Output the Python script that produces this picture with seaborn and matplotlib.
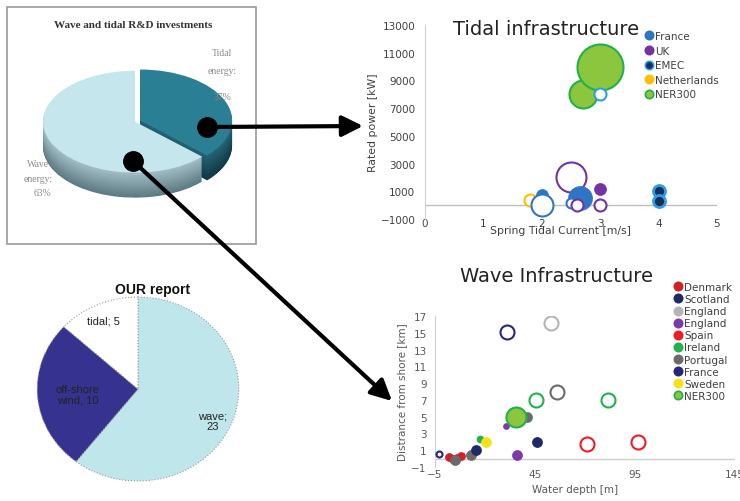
import numpy as np
import matplotlib.pyplot as plt
import seaborn as sns
from matplotlib.lines import Line2D
from matplotlib.patches import Rectangle
from matplotlib.colors import to_rgb

sns.set_style('white')
plt.rcParams['font.family'] = ['DejaVu Sans']

W, H = 740, 502

# R&D investment split (%), tidal first
rd_labels = ['Tidal energy', 'Wave energy']
rd_share = [37, 63]

# OUR report project counts
our_labels = ['wave', 'off-shore wind', 'tidal']
our_counts = [23, 10, 5]

# Tidal infrastructure bubbles (listed in drawing order)
tidal_country = ['NER300', 'NER300', 'EMEC', 'Netherlands', 'France', 'France', 'UK',
                 'France', 'France', 'UK', 'UK', 'UK', 'EMEC', 'EMEC']
tidal_current = [2.7, 3.0, 3.0, 1.8, 2.0, 2.0, 2.5, 2.65, 2.5, 2.6, 3.0, 3.0, 4.0, 4.0]
tidal_power = [8000, 10000, 8000, 400, 700, 0, 2000, 500, 150, 0, 1200, 0, 1000, 300]
tidal_bubble = [14, 23, 6, 6, 6, 11, 15, 12, 5, 6, 6, 6, 6, 6]
tidal_planned = [0, 0, 1, 1, 0, 1, 1, 0, 1, 1, 0, 1, 0, 0]
tidal_legend = ['France', 'UK', 'EMEC', 'Netherlands', 'NER300']

# Wave infrastructure bubbles (listed in drawing order)
wave_country = ['France', 'Denmark', 'Denmark', 'Denmark', 'Denmark', 'Portugal', 'Portugal',
                'Scotland', 'Ireland', 'Sweden', 'England2', 'France', 'England2', 'Portugal',
                'NER300', 'Ireland', 'Scotland', 'England', 'Portugal', 'Spain', 'Ireland', 'Spain']
wave_depth = [-3, 2, 4, 6, 8, 5, 13, 15.5, 17.5, 20.5, 30.5, 31, 36, 41, 35.5, 45.5, 46, 53,
              56, 71, 81.5, 96.5]
wave_dist = [0.5, 0.2, 0.0, 0.1, 0.3, -0.2, 0.4, 1.0, 2.3, 2.0, 3.9, 15.1, 0.4, 5.0, 5.0, 7.0,
             2.0, 16.2, 8.0, 1.7, 7.0, 2.0]
wave_bubble = [3, 4, 4, 4, 4, 5, 5, 5, 3.5, 5, 3, 7, 5, 5, 10, 7, 5, 7, 7, 7, 7, 7]
wave_planned = [1, 0, 0, 0, 0, 0, 0, 0, 0, 0, 0, 1, 0, 0, 0, 1, 0, 1, 1, 1, 1, 1]
wave_legend = ['Denmark', 'Scotland', 'England', 'England2', 'Spain', 'Ireland', 'Portugal',
               'France', 'Sweden', 'NER300']

tidal_colors = {'France': '#2f76c2', 'UK': '#7432a2', 'EMEC': '#2f9ee0',
                'Netherlands': '#ffc000', 'NER300': '#22b04b'}
wave_colors = {'Denmark': '#d02028', 'Scotland': '#1d2a66', 'England': '#b5b5b5',
               'England2': '#7b3aa8', 'Spain': '#ee1c24', 'Ireland': '#22b14c',
               'Portugal': '#6b6b6b', 'France': '#25287a', 'Sweden': '#f5e31a',
               'NER300': '#22b04b'}
NER_FACE = '#8cc63e'
EMEC_FACE = '#1a2b5e'

fig = plt.figure(figsize=(W / 100, H / 100), dpi=100)


def px_axes(left, top, w, h, **kw):
    return fig.add_axes([left / W, 1 - (top + h) / H, w / W, h / H], **kw)


def bubble_area(r):
    # radius in px -> marker area in pt^2
    return (2 * r * 0.72) ** 2


def mix(c1, c2, t):
    a, b = np.array(to_rgb(c1)), np.array(to_rgb(c2))
    return tuple(a + (b - a) * t)


def marker_style(country, planned, colors):
    c = colors[country]
    if country == 'NER300':
        return dict(facecolor=NER_FACE, edgecolor=c, linewidth=1.5)
    if country == 'EMEC' and not planned:
        return dict(facecolor=EMEC_FACE, edgecolor=c, linewidth=2)
    if planned:
        return dict(facecolor='white', edgecolor=c, linewidth=1.5)
    return dict(facecolor=c, edgecolor=c, linewidth=0.5)


# ---- 3D-ish pie: Wave and tidal R&D investments
axp = px_axes(20, 59, 230, 158)
depth, n_layers = 0.49, 30
for k in range(n_layers, 0, -1):
    t = k / n_layers
    side = [mix('#246577', '#103845', t), mix('#a3bec5', '#5c7a83', t)]
    axp.pie(rd_share, colors=side, startangle=90, counterclock=False, explode=[0.06, 0],
            center=(0, -depth * t), wedgeprops=dict(linewidth=0))
axp.pie(rd_share, colors=['#2b7f95', '#c6e6ee'], startangle=90, counterclock=False,
        explode=[0.06, 0], wedgeprops=dict(linewidth=0))
axp.set_aspect('auto')
axp.set_xlim(-1.25, 1.25)
axp.set_ylim(-1.85, 1.25)
axp.axis('off')

# ---- OUR report pie
axq = px_axes(17, 279.6, 242, 220.8)
axq.pie(our_counts, colors=['#bfe6ea', '#35338f', 'white'], startangle=90, counterclock=False,
        wedgeprops=dict(edgecolor='#9a9a9a', linewidth=0.8, linestyle=':'))
axq.set_aspect('auto')
axq.set_xlim(-1.2, 1.2)
axq.set_ylim(-1.2, 1.2)
axq.axis('off')

# ---- Tidal infrastructure
ax1 = px_axes(425, 26, 292, 194)
for i in range(len(tidal_current)):
    st = marker_style(tidal_country[i], tidal_planned[i], tidal_colors)
    sns.scatterplot(x=[tidal_current[i]], y=[tidal_power[i]], s=bubble_area(tidal_bubble[i]),
                    ax=ax1, legend=False, zorder=3, **st)
ax1.axhline(0, color='#bfbfbf', lw=1, zorder=1)
ax1.set_xlim(0, 5)
ax1.set_ylim(-1000, 13000)
ax1.set_xticks(range(0, 6))
ax1.set_yticks(range(-1000, 14000, 2000))
for s in ['top', 'right', 'bottom']:
    ax1.spines[s].set_visible(False)
ax1.spines['left'].set_color('#d0d0d0')
ax1.tick_params(axis='both', labelsize=7.5, colors='#404040', length=0)
ax1.tick_params(axis='y', pad=7)
ax1.tick_params(axis='x', pad=-1)
ax1.set_xlabel('Spring Tidal Current [m/s]', fontsize=7.8, color='#404040')
ax1.set_ylabel('Rated power [kW]', fontsize=7.8, color='#404040')
ax1.xaxis.set_label_coords((560 - 425) / 292, -(231 - 220) / 194)
ax1.yaxis.set_label_coords((373 - 425) / 292, 0.5)
ax1.xaxis.label.set_va('center')
ax1.yaxis.label.set_va('center')

h1 = []
for name in tidal_legend:
    st = marker_style(name, 0, tidal_colors)
    h1.append(Line2D([], [], ls='', marker='o', ms=6, markerfacecolor=st['facecolor'],
                     markeredgecolor=st['edgecolor'], markeredgewidth=1.2, label=name))
ax1.legend(handles=h1, loc='upper left', bbox_to_anchor=(645 / W, 1 - 32 / H),
           bbox_transform=fig.transFigure, frameon=False, fontsize=7.5, borderpad=0,
           borderaxespad=0, handlelength=0.8, handletextpad=0.2, labelspacing=0.44,
           labelcolor='#404040')

# ---- Wave infrastructure
ax2 = px_axes(435, 317, 300, 151)
for i in range(len(wave_depth)):
    st = marker_style(wave_country[i], wave_planned[i], wave_colors)
    sns.scatterplot(x=[wave_depth[i]], y=[wave_dist[i]], s=bubble_area(wave_bubble[i]),
                    ax=ax2, legend=False, zorder=3, **st)
ax2.axhline(0, color='#cfcfcf', lw=1, zorder=1)
ax2.set_xlim(-5, 145)
ax2.set_ylim(-1, 17)
ax2.set_xticks([-5, 45, 95, 145])
ax2.set_yticks(range(-1, 18, 2))
for s in ['top', 'right', 'bottom']:
    ax2.spines[s].set_visible(False)
ax2.spines['left'].set_color('#d0d0d0')
ax2.tick_params(axis='both', labelsize=7.5, colors='#595959', length=0)
ax2.tick_params(axis='y', pad=6)
ax2.tick_params(axis='x', pad=1.5)
ax2.set_xlabel('Water depth [m]', fontsize=7.5, color='#595959')
ax2.set_ylabel('Distrance from shore [km]', fontsize=7.5, color='#595959')
ax2.xaxis.set_label_coords((575 - 435) / 300, -(490 - 468) / 151)
ax2.yaxis.set_label_coords((402 - 435) / 300, 0.5)
ax2.xaxis.label.set_va('center')
ax2.yaxis.label.set_va('center')

h2 = []
for name in wave_legend:
    st = marker_style(name, 0, wave_colors)
    h2.append(Line2D([], [], ls='', marker='o', ms=6, markerfacecolor=st['facecolor'],
                     markeredgecolor=st['edgecolor'], markeredgewidth=1.2,
                     label=name.rstrip('2')))
ax2.legend(handles=h2, loc='upper left', bbox_to_anchor=(674 / W, 1 - 283 / H),
           bbox_transform=fig.transFigure, frameon=False, fontsize=7.5, borderpad=0,
           borderaxespad=0, handlelength=0.8, handletextpad=0.2, labelspacing=0.2,
           labelcolor='#404040')

# ---- overlay: box, titles, labels, arrows
ov = px_axes(0, 0, W, H, zorder=10)
ov.set_xlim(0, W)
ov.set_ylim(H, 0)
ov.axis('off')
ov.patch.set_alpha(0)

ov.add_patch(Rectangle((7, 8), 249, 237, fill=False, edgecolor='#9a9a9a', lw=1.2))
serif = ['Liberation Serif', 'DejaVu Serif']
ov.text(133, 26, 'Wave and tidal R&D investments', ha='center', va='center',
        fontsize=8, fontweight='bold', family=serif, color='#333333')
ov.text(222, 53, 'Tidal', ha='center', va='center', fontsize=7, family=serif, color='#8a8a8a')
ov.text(222, 71, 'energy:', ha='center', va='center', fontsize=7, family=serif, color='#8a8a8a')
ov.text(222, 97, f'{rd_share[0]}%', ha='center', va='center', fontsize=7, family=serif,
        color='#8a8a8a')
ov.text(38, 165, 'Wave', ha='center', va='center', fontsize=7, family=serif, color='#8a8a8a')
ov.text(38, 180, 'energy:', ha='center', va='center', fontsize=7, family=serif, color='#8a8a8a')
ov.text(43, 194, f'{rd_share[1]}%', ha='center', va='center', fontsize=7, family=serif,
        color='#8a8a8a')

sans = ['Liberation Sans', 'DejaVu Sans']
ov.text(153, 290, 'OUR report', ha='center', va='center', fontsize=10, fontweight='bold',
        family=sans, color='#111111')
ov.text(103, 322, f'{our_labels[2]}; {our_counts[2]}', ha='center', va='center', fontsize=8,
        family=sans, color='#222222')
ov.text(78, 395, f'off-shore\nwind, {our_counts[1]}', ha='center', va='center', fontsize=8,
        family=sans, color='#222222', linespacing=1.1)
ov.text(213, 422, f'{our_labels[0]};\n{our_counts[0]}', ha='center', va='center', fontsize=8,
        family=sans, color='#222222', linespacing=1.1)

ov.text(546, 35, 'Tidal infrastructure', ha='center', va='baseline', fontsize=14,
        color='#222222')
ov.text(557, 282, 'Wave Infrastructure', ha='center', va='baseline', fontsize=14,
        color='#222222')

arrow = dict(arrowstyle='-|>,head_length=0.9,head_width=0.45', lw=3, color='black',
             shrinkA=0, shrinkB=0, mutation_scale=14)
ov.annotate('', xy=(363, 127), xytext=(207, 128), arrowprops=arrow)
ov.annotate('', xy=(392, 402), xytext=(133, 162), arrowprops=arrow)
ov.plot([207, 133], [128, 162], 'o', ms=14, color='black')

fig.savefig('out.png', dpi=100)
